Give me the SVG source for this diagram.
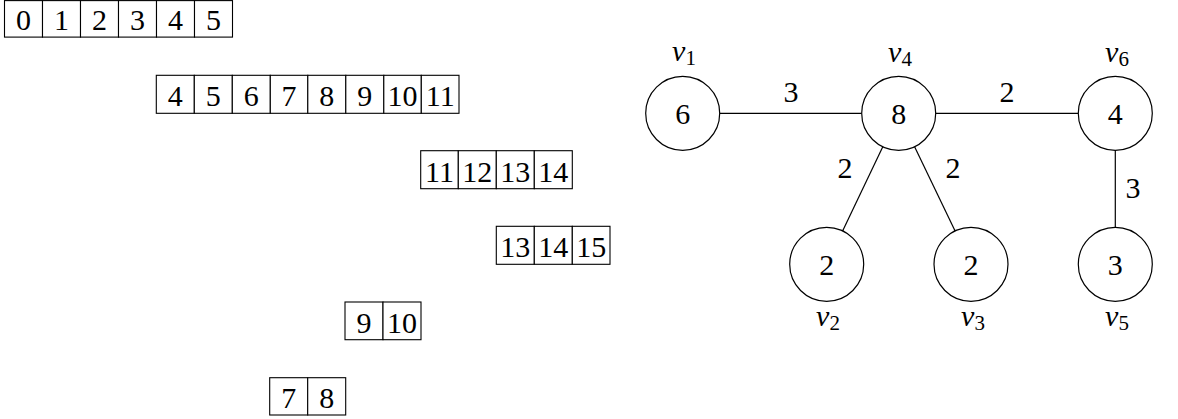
<svg xmlns="http://www.w3.org/2000/svg" width="1178" height="419" viewBox="0 0 1178 419">
<style>
text{font-family:'Liberation Serif','Times New Roman',Times,'DejaVu Serif',serif}
.cell{fill:#fff;stroke:#000;stroke-width:1.1}
.t{font-size:30px;fill:#000;text-anchor:middle}
.v{font-size:30px;font-style:italic;fill:#000;text-anchor:middle}
.s{font-style:normal;font-size:21px}
.node{fill:#fff;stroke:#000;stroke-width:1.2}
.edge{stroke:#000;stroke-width:1.2;fill:none}
</style>
<rect width="1178" height="419" fill="#fff"/>
<g id="array1">
<rect class="cell" x="4.5" y="0.6" width="38" height="36.5"/><text class="t" x="23.5" y="30">0</text>
<rect class="cell" x="42.5" y="0.6" width="38" height="36.5"/><text class="t" x="61.5" y="30">1</text>
<rect class="cell" x="80.5" y="0.6" width="38" height="36.5"/><text class="t" x="99.5" y="30">2</text>
<rect class="cell" x="118.5" y="0.6" width="38" height="36.5"/><text class="t" x="137.5" y="30">3</text>
<rect class="cell" x="156.5" y="0.6" width="38" height="36.5"/><text class="t" x="175.5" y="30">4</text>
<rect class="cell" x="194.5" y="0.6" width="38" height="36.5"/><text class="t" x="213.5" y="30">5</text>
</g>
<g id="array2">
<rect class="cell" x="156.3" y="75.3" width="38" height="38"/><text class="t" x="175.3" y="106">4</text>
<rect class="cell" x="194.3" y="75.3" width="38" height="38"/><text class="t" x="213.3" y="106">5</text>
<rect class="cell" x="232.3" y="75.3" width="38" height="38"/><text class="t" x="251.3" y="106">6</text>
<rect class="cell" x="270.3" y="75.3" width="37.5" height="38"/><text class="t" x="289" y="106">7</text>
<rect class="cell" x="307.8" y="75.3" width="38" height="38"/><text class="t" x="326.8" y="106">8</text>
<rect class="cell" x="345.8" y="75.3" width="38" height="38"/><text class="t" x="364.8" y="106">9</text>
<rect class="cell" x="383.8" y="75.3" width="37.5" height="38"/><text class="t" x="402.5" y="106">10</text>
<rect class="cell" x="421.3" y="75.3" width="37.7" height="38"/><text class="t" x="440.2" y="106">11</text>
</g>
<g id="array3">
<rect class="cell" x="420.7" y="150.7" width="37.6" height="38"/><text class="t" x="439.5" y="181.5">11</text>
<rect class="cell" x="458.3" y="150.7" width="38" height="38"/><text class="t" x="477.3" y="181.5">12</text>
<rect class="cell" x="496.3" y="150.7" width="38" height="38"/><text class="t" x="515.3" y="181.5">13</text>
<rect class="cell" x="534.3" y="150.7" width="38" height="38"/><text class="t" x="553.3" y="181.5">14</text>
</g>
<g id="array4">
<rect class="cell" x="496.3" y="226.3" width="38" height="38"/><text class="t" x="515.3" y="257">13</text>
<rect class="cell" x="534.3" y="226.3" width="38" height="38"/><text class="t" x="553.3" y="257">14</text>
<rect class="cell" x="572.3" y="226.3" width="37.7" height="38"/><text class="t" x="591.2" y="257">15</text>
</g>
<g id="array5">
<rect class="cell" x="345" y="302" width="38" height="37.7"/><text class="t" x="364" y="332.5">9</text>
<rect class="cell" x="383" y="302" width="38" height="37.7"/><text class="t" x="402" y="332.5">10</text>
</g>
<g id="array6">
<rect class="cell" x="269.7" y="377.7" width="38" height="37.3"/><text class="t" x="288.7" y="408">7</text>
<rect class="cell" x="307.7" y="377.7" width="38" height="37.3"/><text class="t" x="326.7" y="408">8</text>
</g>
<g id="connectors">
<line class="edge" x1="719.7" y1="113.3" x2="861.7" y2="113.3"/>
<line class="edge" x1="935.7" y1="113.3" x2="1078.3" y2="113.3"/>
<line class="edge" x1="882.8" y1="146.7" x2="842.6" y2="230.9"/>
<line class="edge" x1="914.6" y1="146.7" x2="955.1" y2="230.9"/>
<line class="edge" x1="1115.3" y1="150.3" x2="1115.3" y2="227.3"/>
<text class="t" x="791" y="101.5">3</text>
<text class="t" x="1007" y="101.5">2</text>
<text class="t" x="845" y="178">2</text>
<text class="t" x="953" y="178">2</text>
<text class="t" x="1133" y="198">3</text>
</g>
<g id="v1">
<circle class="node" cx="682.7" cy="113.3" r="37"/>
<text class="t" x="682.7" y="124">6</text>
<text class="v" x="684" y="61">v<tspan class="s" dy="4">1</tspan></text>
</g>
<g id="v4">
<circle class="node" cx="898.7" cy="113.3" r="37"/>
<text class="t" x="898.7" y="124">8</text>
<text class="v" x="900" y="62">v<tspan class="s" dy="4">4</tspan></text>
</g>
<g id="v6">
<circle class="node" cx="1115.3" cy="113.3" r="37"/>
<text class="t" x="1115.3" y="124">4</text>
<text class="v" x="1117" y="62">v<tspan class="s" dy="4">6</tspan></text>
</g>
<g id="v2">
<circle class="node" cx="826.7" cy="264.3" r="37"/>
<text class="t" x="826.7" y="275">2</text>
<text class="v" x="828" y="326">v<tspan class="s" dy="4">2</tspan></text>
</g>
<g id="v3">
<circle class="node" cx="971" cy="264.3" r="37"/>
<text class="t" x="971" y="275">2</text>
<text class="v" x="973" y="326">v<tspan class="s" dy="4">3</tspan></text>
</g>
<g id="v5">
<circle class="node" cx="1115.3" cy="264.3" r="37"/>
<text class="t" x="1115.3" y="275">3</text>
<text class="v" x="1117" y="326">v<tspan class="s" dy="4">5</tspan></text>
</g>
</svg>
